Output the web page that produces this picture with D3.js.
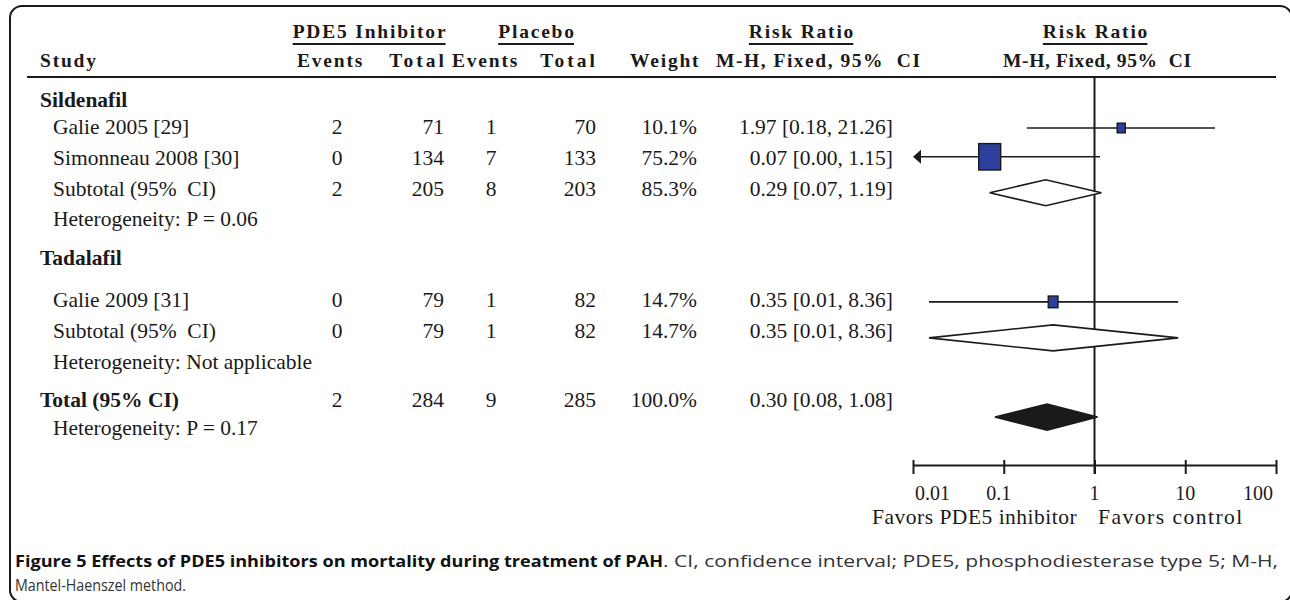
<!DOCTYPE html>
<html><head><meta charset="utf-8">
<script src="https://cdn.jsdelivr.net/npm/d3@7/dist/d3.min.js"></script>
<style>
html,body{margin:0;padding:0;background:#fff;}
svg{display:block;}
</style></head><body>
<svg id="chart" width="1290" height="600"></svg>
<script>
// ---------------- DATA ----------------
const groups = ["Sildenafil", "Tadalafil"];
const studies = ["Galie 2005 [29]", "Simonneau 2008 [30]", "Galie 2009 [31]"];
const studyGroup = [0, 0, 1];
const pdeEvents = [2, 0, 0];
const pdeTotal = [71, 134, 79];
const plcEvents = [1, 7, 1];
const plcTotal = [70, 133, 82];
const weights = [10.1, 75.2, 14.7];
const rr = [1.97, 0.07, 0.35];
const ciLow = [0.18, 0.004, 0.015];
const ciHigh = [21.26, 1.15, 8.36];
const rrLabels = ["1.97 [0.18, 21.26]", "0.07 [0.00, 1.15]", "0.35 [0.01, 8.36]"];

const subPdeEvents = [2, 0];
const subPdeTotal = [205, 79];
const subPlcEvents = [8, 1];
const subPlcTotal = [203, 82];
const subWeights = [85.3, 14.7];
const subRR = [0.29, 0.35];
const subLow = [0.07, 0.015];
const subHigh = [1.19, 8.36];
const subLabels = ["0.29 [0.07, 1.19]", "0.35 [0.01, 8.36]"];
const heterogeneity = ["Heterogeneity: P = 0.06", "Heterogeneity: Not applicable"];

const totalLabel = "Total (95% CI)";
const totalPdeEvents = 2, totalPdeTotal = 284, totalPlcEvents = 9, totalPlcTotal = 285, totalWeight = 100.0;
const totalRR = 0.30, totalLow = 0.08, totalHigh = 1.08;
const totalRRLabel = "0.30 [0.08, 1.08]";
const totalHeterogeneity = "Heterogeneity: P = 0.17";

const tickValues = [0.01, 0.1, 1, 10, 100];
const tickLabels = ["0.01", "0.1", "1", "10", "100"];
const favorsLabels = ["Favors PDE5 inhibitor", "Favors control"];

const captionBold = "Figure 5 Effects of PDE5 inhibitors on mortality during treatment of PAH";
const captionRest = ". CI, confidence interval; PDE5, phosphodiesterase type 5; M-H,";
const captionLine2 = "Mantel-Haenszel method.";

// ---------------- LAYOUT ----------------
const svg = d3.select("#chart");
const SERIF = "'Liberation Serif','Times New Roman',serif";
const INK = "#1a1a1a";
const fmtW = d => d3.format(".1f")(d) + "%";

// border
svg.append("rect").attr("x", 10).attr("y", 6).attr("width", 1282).attr("height", 596)
  .attr("rx", 12).attr("fill", "none").attr("stroke", INK).attr("stroke-width", 2);

// build rows
const rows = [];
groups.forEach((g, gi) => {
  rows.push({kind: "group", label: g});
  studies.forEach((s, i) => {
    if (studyGroup[i] === gi) rows.push({kind: "study", label: s, e1: pdeEvents[i], t1: pdeTotal[i], e2: plcEvents[i], t2: plcTotal[i], w: weights[i], rr: rr[i], lo: ciLow[i], hi: ciHigh[i], rrl: rrLabels[i]});
  });
  rows.push({kind: "sub", label: "Subtotal (95% CI)", e1: subPdeEvents[gi], t1: subPdeTotal[gi], e2: subPlcEvents[gi], t2: subPlcTotal[gi], w: subWeights[gi], rr: subRR[gi], lo: subLow[gi], hi: subHigh[gi], rrl: subLabels[gi]});
  rows.push({kind: "het", label: heterogeneity[gi]});
});
rows.push({kind: "total", label: totalLabel, e1: totalPdeEvents, t1: totalPdeTotal, e2: totalPlcEvents, t2: totalPlcTotal, w: totalWeight, rr: totalRR, lo: totalLow, hi: totalHigh, rrl: totalRRLabel});
rows.push({kind: "het", label: totalHeterogeneity});

// vertical slots of each row (text) and of each plotted mark
const textSlots = [0, 0.87, 1.87, 2.87, 3.84, 5.1, 6.45, 7.45, 8.45, 9.68, 10.58];
const markSlots = {1: 0, 2: 0.8, 3: 1.8, 6: 4.83, 7: 5.83, 9: 8.03};
const yText = d3.scaleLinear().domain([0, 1]).range([107, 138]);
const yMark = d3.scaleLinear().domain([0, 1]).range([128, 164]);

// column positions
const col = {label: 40, indent: 53, e1: 337, t1: 444, e2: 491, t2: 596, w: 697, rr: 893};

// ---------------- HEADER ----------------
const head = svg.append("g").attr("font-family", SERIF).attr("font-weight", "bold")
  .attr("font-size", 19.5).attr("fill", INK).style("letter-spacing", "1.8px");
const top1 = [{t: "PDE5 Inhibitor", x: 370}, {t: "Placebo", x: 537}, {t: "Risk Ratio", x: 802}, {t: "Risk Ratio", x: 1096}];
top1.forEach(h => {
  const tx = head.append("text").attr("x", h.x).attr("y", 38).attr("text-anchor", "middle").text(h.t);
  const bb = tx.node().getBBox();
  head.append("line").attr("x1", bb.x).attr("x2", bb.x + bb.width - 1.8).attr("y1", 44).attr("y2", 44)
    .attr("stroke", INK).attr("stroke-width", 2);
});
const top2 = [
  {t: "Study", x: 40, a: "start"}, {t: "Events", x: 297, a: "start"}, {t: "Total", x: 447, a: "end", ls: 3},
  {t: "Events", x: 452, a: "start"}, {t: "Total", x: 598, a: "end", ls: 3}, {t: "Weight", x: 630, a: "start"},
  {t: "M-H, Fixed, 95%  CI", x: 716, a: "start", len: 204}, {t: "M-H, Fixed, 95%  CI", x: 1003, a: "start", len: 188}
];
top2.forEach(h => {
  const t = head.append("text").attr("x", h.x).attr("y", 67).attr("text-anchor", h.a)
    .style("white-space", "pre").text(h.t);
  if (h.ls) t.style("letter-spacing", h.ls + "px");
  if (h.len) t.style("letter-spacing", "0px").attr("textLength", h.len).attr("lengthAdjust", "spacing");
});
svg.append("line").attr("x1", 27).attr("x2", 1276).attr("y1", 77).attr("y2", 77)
  .attr("stroke", INK).attr("stroke-width", 2);

// ---------------- TABLE ----------------
const body = svg.append("g").attr("font-family", SERIF).attr("font-size", 21.5).attr("fill", INK);
rows.forEach((r, i) => {
  const y = yText(textSlots[i]);
  const bold = r.kind === "group" || r.kind === "total";
  body.append("text").attr("x", bold ? col.label : col.indent).attr("y", y)
    .attr("font-weight", bold ? "bold" : "normal").style("white-space", "pre")
    .text(r.kind === "sub" ? "Subtotal (95%  CI)" : r.label);
  if (r.e1 !== undefined) {
    body.append("text").attr("x", col.e1).attr("y", y).attr("text-anchor", "middle").text(r.e1);
    body.append("text").attr("x", col.t1).attr("y", y).attr("text-anchor", "end").text(r.t1);
    body.append("text").attr("x", col.e2).attr("y", y).attr("text-anchor", "middle").text(r.e2);
    body.append("text").attr("x", col.t2).attr("y", y).attr("text-anchor", "end").text(r.t2);
    body.append("text").attr("x", col.w).attr("y", y).attr("text-anchor", "end").text(fmtW(r.w));
    body.append("text").attr("x", col.rr).attr("y", y).attr("text-anchor", "end").text(r.rrl);
  }
});

// ---------------- FOREST PLOT ----------------
const x = d3.scaleLog().domain([0.01, 100]).range([913, 1276]);
const plot = svg.append("g");
const sideW = d3.scaleSqrt().domain([0, 75.2]).range([0, 22]);

// line of no effect
plot.append("line").attr("x1", x(1)).attr("x2", x(1)).attr("y1", 77).attr("y2", 474)
  .attr("stroke", INK).attr("stroke-width", 2);

rows.forEach((r, i) => {
  if (markSlots[i] === undefined) return;
  const y = yMark(markSlots[i]);
  const lo = Math.max(r.lo, x.domain()[0]);
  const hi = Math.min(r.hi, x.domain()[1]);
  if (r.kind === "study") {
    const x0 = r.lo < x.domain()[0] ? x(x.domain()[0]) + 7 : x(lo);
    plot.append("line").attr("x1", x0).attr("x2", x(hi)).attr("y1", y).attr("y2", y)
      .attr("stroke", INK).attr("stroke-width", 1.6);
    if (r.lo < x.domain()[0]) {
      const tip = x(x.domain()[0]);
      plot.append("path").attr("d", `M${tip},${y} L${tip + 8},${y - 7} L${tip + 8},${y + 7} Z`).attr("fill", INK);
    }
    const w = sideW(r.w), h = w * 1.2;
    plot.append("rect").attr("x", x(r.rr) - w / 2).attr("y", y - h / 2).attr("width", w).attr("height", h)
      .attr("fill", "#2d3f9c").attr("stroke", INK).attr("stroke-width", 1.4);
  } else {
    const hh = 13;
    plot.append("path")
      .attr("d", `M${x(lo)},${y} L${x(r.rr)},${y - hh} L${x(hi)},${y} L${x(r.rr)},${y + hh} Z`)
      .attr("fill", r.kind === "total" ? INK : "#fff").attr("stroke", INK).attr("stroke-width", 1.6);
  }
});

// axis
const axis = d3.axisBottom(x).tickValues(tickValues).tickSizeOuter(0).tickSizeInner(9).tickFormat("");
const ax = svg.append("g").attr("transform", "translate(0,465)").call(axis);
ax.select(".domain").attr("stroke", INK).attr("stroke-width", 2);
ax.selectAll(".tick line").attr("y1", -5).attr("stroke", INK).attr("stroke-width", 2);
const anchors = ["start", "middle", "middle", "middle", "end"];
const nudges = [2, -5, 0, 0, -3];
svg.append("g").attr("font-family", SERIF).attr("font-size", 20).attr("fill", INK)
  .selectAll("text").data(tickValues).join("text")
  .attr("x", (d, i) => x(d) + nudges[i]).attr("y", 500).attr("text-anchor", (d, i) => anchors[i])
  .text((d, i) => tickLabels[i]);
const fav = svg.append("g").attr("font-family", SERIF).attr("font-size", 21.5).attr("fill", INK);
fav.append("text").attr("x", 872).attr("y", 524).style("letter-spacing", "0.5px").text(favorsLabels[0]);
fav.append("text").attr("x", 1098).attr("y", 524).style("letter-spacing", "1.5px").text(favorsLabels[1]);

// ---------------- CAPTION ----------------
const cap = svg.append("g").attr("font-family", "'Open Sans','Noto Sans',sans-serif").attr("font-size", 16.5);
cap.append("text").attr("x", 15).attr("y", 567).attr("font-weight", "bold").attr("fill", "#111")
  .attr("textLength", 648).attr("lengthAdjust", "spacingAndGlyphs").text(captionBold);
cap.append("text").attr("x", 663).attr("y", 567).attr("fill", "#333")
  .attr("textLength", 615).attr("lengthAdjust", "spacingAndGlyphs").text(captionRest);
cap.append("text").attr("x", 15).attr("y", 591).attr("fill", "#333")
  .attr("textLength", 171).attr("lengthAdjust", "spacingAndGlyphs").text(captionLine2);
</script>
</body></html>
